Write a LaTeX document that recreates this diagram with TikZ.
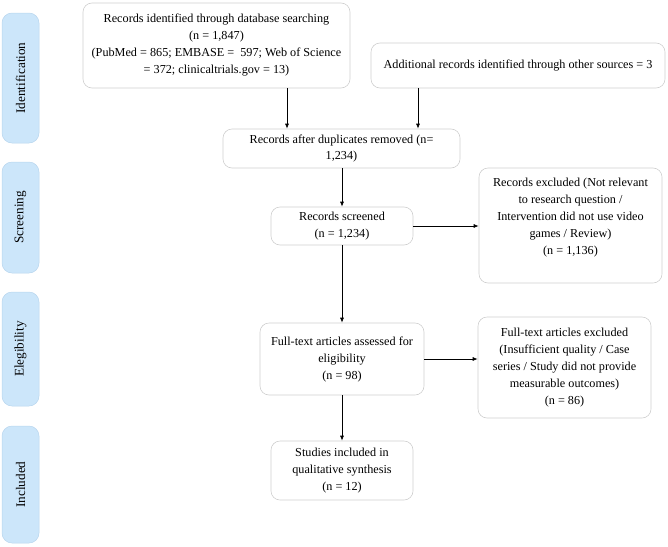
\documentclass[tikz,border=0pt]{standalone}
\usepackage{fontspec}
\setmainfont{Liberation Serif}
\usetikzlibrary{arrows.meta}
\definecolor{tabblue}{HTML}{CCE6FA}
\definecolor{tabedge}{HTML}{B8D6EE}
\definecolor{boxedge}{HTML}{CFCFCF}
\begin{document}
\begin{tikzpicture}[x=1pt,y=-1pt,
  box/.style={draw=boxedge, line width=0.6pt, rounded corners=9pt, fill=white, align=center, inner sep=0pt,
    font=\fontsize{12.2}{17}\selectfont},
  tab/.style={draw=tabedge, fill=tabblue, line width=0.5pt, rounded corners=10pt, minimum width=37pt, inner sep=0pt},
  tabtext/.style={rotate=90, font=\fontsize{13.2}{15}\selectfont},
  arr/.style={draw, line width=0.7pt, -{Latex[length=5pt,width=4pt]}}
]
\useasboundingbox (0,0) rectangle (668,546);
% side tabs
\node[tab, minimum height=130pt] (tid) at (20.5,78) {};
\node[tabtext] (tidt) at (tid.center) {Identification};
\node[tab, minimum height=111pt] (tsc) at (20.5,217.5) {};
\node[tabtext] (tsct) at (tsc.center) {Screening};
\node[tab, minimum height=114pt] (tel) at (20.5,349) {};
\node[tabtext] (telt) at (tel.center) {Elegibility};
\node[tab, minimum height=117pt] (tin) at (20.5,484.5) {};
\node[tabtext] (tint) at (tin.center) {Included};
% boxes
\node[box, minimum width=267pt, minimum height=85pt] (b1) at (216.5,45.5)
  {Records identified through database searching\\(n = 1,847)\\(PubMed = 865; EMBASE =\ \ 597; Web of Science\\= 372; clinicaltrials.gov = 13)};
\node[box, minimum width=294pt, minimum height=45pt] (b2) at (518,65.5)
  {Additional records identified through other sources = 3};
\node[box, minimum width=237pt, minimum height=39pt] (b3) at (341.5,148.5)
  {Records after duplicates removed (n=\\1,234)};
\node[box, minimum width=142pt, minimum height=38pt] (b4) at (342,226)
  {Records screened\\(n = 1,234)};
\node[box, minimum width=183pt, minimum height=115pt] (b5) at (570.5,225.5) {};
\node[align=center, inner sep=0pt, font=\fontsize{12.2}{17}\selectfont] (b5t) at (570.5,217.5)
  {Records excluded (Not relevant\\to research question /\\Intervention did not use video\\games / Review)\\(n = 1,136)};
\node[box, minimum width=164pt, minimum height=72pt] (b6) at (342,359)
  {Full-text articles assessed for\\eligibility\\(n = 98)};
\node[box, minimum width=173pt, minimum height=101pt] (b7) at (564.5,367.5)
  {Full-text articles excluded\\(Insufficient quality / Case\\series / Study did not provide\\measurable outcomes)\\(n = 86)};
\node[box, minimum width=142pt, minimum height=59pt] (b8) at (342,470.5)
  {Studies included in\\qualitative synthesis\\(n = 12)};
% connectors
\draw[arr] (b1.south -| 287,0) -- (b3.north -| 287,0);
\draw[arr] (b2.south -| 418,0) -- (b3.north -| 418,0);
\draw[arr] (b3.south -| b4.north) -- (b4.north);
\draw[arr] (b4.east) -- (b4.east -| b5.west);
\draw[arr] (b4.south) -- (b6.north);
\draw[arr] (b6.east) -- (b6.east -| b7.west);
\draw[arr] (b6.south) -- (b8.north);
\end{tikzpicture}
\end{document}
